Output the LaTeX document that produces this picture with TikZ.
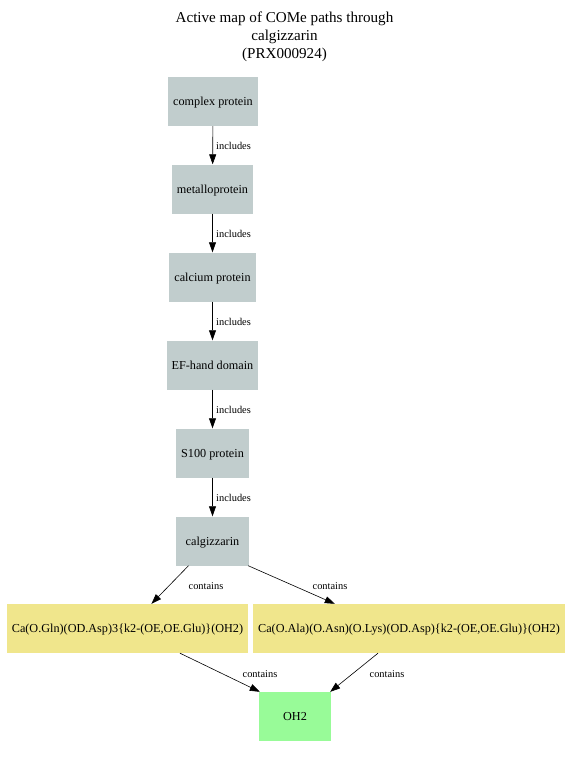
\documentclass[tikz,border=0pt]{standalone}
\usepackage{fontspec}
\setmainfont{Liberation Serif}
\usetikzlibrary{arrows.meta,calc}
\definecolor{grayc}{HTML}{C1CDCD}
\definecolor{khakic}{HTML}{F0E68C}
\definecolor{greenc}{HTML}{98FB98}
\tikzset{
  box/.style={fill=grayc, inner sep=0pt, font=\fontsize{12.2}{14}\selectfont, minimum height=49pt, text height=11.5pt, text depth=3pt},
  ybox/.style={box, fill=khakic},
  gbox/.style={box, fill=greenc},
  lbl/.style={font=\fontsize{10.4}{12}\selectfont, inner sep=0pt},
  edge/.style={draw=black, line width=0.6pt, -{Triangle[length=10pt,width=7pt]}}
}
\begin{document}
\begin{tikzpicture}[x=1pt,y=-1pt]
\path[use as bounding box, fill=white] (0,0) rectangle (569,758);
\node[font=\fontsize{15.1}{18}\selectfont, align=center] (title) at (284.5,37) {Active map of COMe paths through\\calgizzarin\\(PRX000924)};
\node[box, minimum width=90pt] (cp) at (213,101.5) {complex protein};
\node[box, minimum width=81pt] (mp) at (212.5,189) {metalloprotein};
\node[box, minimum width=87pt] (ca) at (212.5,277) {calcium protein};
\node[box, minimum width=91pt] (ef) at (212.5,365) {EF-hand domain};
\node[box, minimum width=73pt] (s1) at (212.5,453) {S100 protein};
\node[box, minimum width=73pt] (cg) at (212.5,541) {calgizzarin};
\node[ybox, minimum width=241pt] (y1) at (127.5,628.5) {Ca(O.Gln)(OD.Asp)3\{k2-(OE,OE.Glu)\}(OH2)};
\node[ybox, minimum width=312pt] (y2) at (409,628.5) {Ca(O.Ala)(O.Asn)(O.Lys)(OD.Asp)\{k2-(OE,OE.Glu)\}(OH2)};
\node[gbox, minimum width=72pt] (oh) at (295,716.5) {OH2};

\draw[edge] (cp) -- (mp);
\draw[edge] (mp) -- (ca);
\draw[edge] (ca) -- (ef);
\draw[edge] (ef) -- (s1);
\draw[edge] (s1) -- (cg);
\node[lbl, anchor=west] (l1) at (216,146) {includes};
\node[lbl, anchor=west] (l2) at (216,234) {includes};
\node[lbl, anchor=west] (l3) at (216,322) {includes};
\node[lbl, anchor=west] (l4) at (216,410) {includes};
\node[lbl, anchor=west] (l5) at (216,498) {includes};

\draw[edge] (cg) -- (y1);
\draw[edge] ($(cg.south east)+(-1,0)$) -- ($(y2.north west)+(82,0)$);
\draw[edge] ($(y1.south)+(52.5,0)$) -- ($(oh.north west)+(1,0)$);
\draw[edge] ($(y2.south)+(-31,0)$) -- ($(oh.north east)+(-1,0)$);
\node[lbl] (l6) at (206,586) {contains};
\node[lbl] (l7) at (330,586) {contains};
\node[lbl] (l8) at (260,674) {contains};
\node[lbl] (l9) at (387,674) {contains};
\end{tikzpicture}
\end{document}
